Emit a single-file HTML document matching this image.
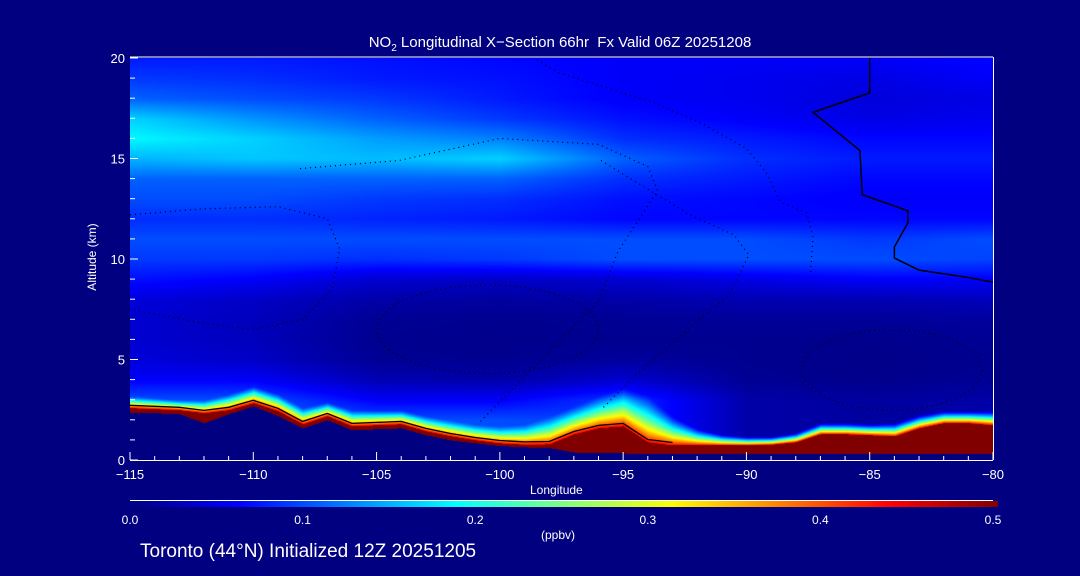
<!DOCTYPE html>
<html><head><meta charset="utf-8">
<style>
html,body{margin:0;padding:0;background:#000080;}
#wrap{position:relative;width:1080px;height:576px;background:#000080;overflow:hidden;font-family:"Liberation Sans",sans-serif;color:#fff;}
canvas{position:absolute;left:130px;top:58px;}
svg{position:absolute;left:0;top:0;}
.t{position:absolute;white-space:nowrap;}
</style></head>
<body>
<div id="wrap">
<canvas id="field" width="863" height="402"></canvas>
<svg id="ov" width="1080" height="576"></svg>
<div class="t" style="left:0;width:1120px;text-align:center;top:34px;font-size:15px;">NO<sub style="font-size:10px">2</sub> Longitudinal X&#8722;Section 66hr &nbsp;Fx Valid 06Z 20251208</div>
<div class="t" style="left:530px;top:483px;font-size:12px;">Longitude</div>
<div class="t" style="left:52px;top:250px;font-size:12px;transform:rotate(-90deg);width:80px;text-align:center;">Altitude (km)</div>
<div style="position:absolute;left:130px;top:500px;width:863px;height:1px;background:#fff;"></div>
<div style="position:absolute;left:130px;top:501px;width:868px;height:6px;background:linear-gradient(to right,#000080 0%,#0000ff 12.5%,#00ffff 37.5%,#ffff00 62.5%,#ff0000 87.5%,#800000 100%);"></div>
<div class="t" style="left:541px;top:528px;font-size:12px;">(ppbv)</div>
<div class="t" style="left:140px;top:541px;font-size:19px;">Toronto (44°N) Initialized 12Z 20251205</div>
</div>
<script>
// ---- data ----
const profileLons=[-115,-110,-105,-100,-95,-90,-85,-80];
const altGrid=[0,1,2,3,4,5,6,7,8,9,10,11,12,13,14,15,16,17,18,19,20];
const prof115=[.125,.125,.125,.10,.06,.045,.04,.04,.045,.07,.09,.10,.085,.10,.11,.15,.185,.165,.11,.09,.075];
const prof110=[.125,.125,.125,.10,.06,.035,.03,.03,.035,.06,.09,.10,.085,.10,.11,.16,.165,.135,.10,.085,.075];
const prof105=[.10,.10,.10,.06,.025,.01,.008,.01,.02,.04,.085,.10,.08,.09,.11,.155,.14,.11,.09,.075,.07];
const prof100=[.10,.10,.10,.06,.02,.008,.006,.008,.015,.035,.09,.10,.075,.085,.11,.165,.125,.09,.075,.07,.065];
const prof95=[.09,.09,.09,.09,.04,.015,.008,.01,.02,.04,.10,.10,.065,.07,.085,.11,.085,.07,.06,.06,.06];
const prof90=[.02,.02,.02,.02,.01,.008,.008,.012,.025,.05,.10,.10,.065,.065,.075,.085,.075,.06,.055,.055,.06];
const prof85=[.015,.015,.015,.015,.006,.005,.006,.012,.025,.06,.10,.09,.065,.06,.065,.075,.065,.05,.045,.05,.06];
const prof80=[.02,.02,.02,.02,.01,.008,.01,.015,.03,.06,.095,.10,.065,.06,.065,.075,.065,.055,.05,.06,.065];
const profiles=[prof115,prof110,prof105,prof100,prof95,prof90,prof85,prof80];
const sfcLons=[-115,-114,-113,-112,-111,-110,-109,-108,-107,-106,-105,-104,-103,-102,-101,-100,-99,-98,-97,-96,-95,-94,-93,-92,-91,-90,-89,-88,-87,-86,-85,-84,-83,-82,-81,-80];
const terrain=[2.35,2.35,2.3,1.85,2.3,2.7,2.2,1.6,2.0,1.5,1.55,1.6,1.25,1.0,0.85,0.72,0.65,0.62,0.4,0.35,0.35,0.3,0.3,0.3,0.3,0.3,0.3,0.3,0.3,0.3,0.3,0.3,0.3,0.3,0.3,0.3];
const redTop=[2.6,2.55,2.5,2.35,2.5,2.85,2.45,1.8,2.2,1.7,1.75,1.8,1.45,1.2,1.0,0.85,0.78,0.8,1.3,1.6,1.7,0.9,0.75,0.75,0.75,0.75,0.78,0.9,1.3,1.3,1.25,1.2,1.6,1.85,1.85,1.75];
const plumeTop=[3.2,3.1,3.0,3.0,3.3,3.7,3.3,2.6,2.9,2.5,2.5,2.5,2.2,2.0,1.8,1.7,1.8,2.2,2.7,3.2,3.6,3.2,2.2,1.6,1.3,1.2,1.2,1.4,1.9,1.9,1.85,1.9,2.3,2.5,2.5,2.5];
// contour lines [lon,alt]
const contourZeroLon=[-85.0,-85.0,-87.3,-85.4,-85.3,-83.45,-83.45,-84.0,-84.0,-83.0,-81.1,-80];
const contourZeroAlt=[20,18.26,17.3,15.4,13.2,12.4,11.8,10.6,10.05,9.45,9.1,8.85];
const contourALon=[-98.5,-97.56,-93.8,-91.9,-90.0,-89.2,-88.6,-87.55,-87.3,-87.4];
const contourAAlt=[19.9,19.25,17.8,16.8,15.5,14.3,12.8,12.3,11.1,9.3];
const contourBLon=[-95.9,-93.9,-92.3,-90.5,-89.9,-90.3,-90.7,-91.9,-93.5,-94.6,-95.9];
const contourBAlt=[14.9,13.4,12.2,11.2,10.2,9.2,8.2,7.0,5.3,4.1,2.5];
const contourCLon=[-108.1,-104.1,-100,-96,-94,-93.6,-95.2,-96,-97.6,-99.2,-100.8];
const contourCAlt=[14.5,14.9,16,15.7,14.6,13.4,10.4,7.9,5.9,3.9,1.9];
const contourDLon=[-115,-112,-109,-107,-106.5,-106.8,-108,-110,-112,-115];
const contourDAlt=[12.2,12.5,12.6,12.0,10.5,8.5,7.0,6.5,6.8,7.5];
const ellipse10=[-84.1,4.48,3.65,2.0];
const ellipseL=[-100.5,6.5,4.5,2.2];
const xTicks=[-115,-110,-105,-100,-95,-90,-85,-80];
const yTicks=[0,5,10,15,20];
const cbTicks=[0.0,0.1,0.2,0.3,0.4,0.5];
// ---- axes ----
const X0=130,X1=993,Y0=460,Y1=58;
const xs=l=>X0+(l+115)/35*(X1-X0);
const ys=a=>Y0-a/20*(Y0-Y1);
function interp(xa,ya,x){if(x<=xa[0])return ya[0];for(let i=1;i<xa.length;i++){if(x<=xa[i]){const t=(x-xa[i-1])/(xa[i]-xa[i-1]);return ya[i-1]+t*(ya[i]-ya[i-1]);}}return ya[ya.length-1];}
function jet(f){const c=v=>Math.max(0,Math.min(1,v));return [c(1.5-Math.abs(4*f-3))*255,c(1.5-Math.abs(4*f-2))*255,c(1.5-Math.abs(4*f-1))*255];}
// ---- field ----
const cv=document.getElementById('field');const ctx=cv.getContext('2d');
const W=cv.width,H=cv.height;const img=ctx.createImageData(W,H);
for(let px=0;px<W;px++){
  const lon=-115+px/W*35;
  let pi=0;while(pi<profileLons.length-2&&lon>profileLons[pi+1])pi++;
  const tL=(lon-profileLons[pi])/(profileLons[pi+1]-profileLons[pi]);
  const col=altGrid.map((a,k)=>profiles[pi][k]*(1-tL)+profiles[pi+1][k]*tL);
  const tr=interp(sfcLons,terrain,lon),rt=interp(sfcLons,redTop,lon),pt=interp(sfcLons,plumeTop,lon);
  for(let py=0;py<H;py++){
    const alt=(H-py)/H*20;
    let v;
    if(alt<tr){v=0;}
    else if(alt<rt){v=0.5;}
    else{
      const base=interp(altGrid,col,alt);
      if(alt<pt){const t=(alt-rt)/(pt-rt);v=base+(0.44-base)*Math.pow(1-t,1.3);}
      else v=base;
    }
    const c=jet(v/0.5);const o=(py*W+px)*4;
    img.data[o]=c[0];img.data[o+1]=c[1];img.data[o+2]=c[2];img.data[o+3]=255;
  }
}
ctx.putImageData(img,0,0);
// ---- overlay ----
const NS='http://www.w3.org/2000/svg';const sv=document.getElementById('ov');
function mk(tag,at){const e=document.createElementNS(NS,tag);for(const k in at)e.setAttribute(k,at[k]);sv.appendChild(e);return e;}
function pathOf(la,aa){return la.map((l,i)=>(i?'L':'M')+xs(l).toFixed(1)+' '+ys(aa[i]).toFixed(1)).join(' ');}
let e;
e=mk('path',{d:pathOf(contourZeroLon,contourZeroAlt),fill:'none',stroke:'#000',"stroke-width":1.5});


const sfcLineLon=sfcLons.filter(l=>l<=-93);
const sfcLineAlt=sfcLineLon.map(l=>interp(sfcLons,redTop,l)+0.12);
e=mk('path',{d:pathOf(sfcLineLon,sfcLineAlt),fill:'none',stroke:'#000',"stroke-width":1.3});


[[contourALon,contourAAlt,'contour-a'],[contourBLon,contourBAlt,'contour-b'],[contourCLon,contourCAlt,'contour-c'],[contourDLon,contourDAlt,'contour-d']].forEach(c=>{
  const p=mk('path',{d:pathOf(c[0],c[1]),fill:'none',stroke:'#000',"stroke-width":1.2,"stroke-dasharray":'1 4'});
  
  
});
[[ellipse10,'contour-ellipse-10'],[ellipseL,'contour-ellipse-left']].forEach(c=>{
  const q=mk('ellipse',{cx:xs(c[0][0]),cy:ys(c[0][1]),rx:xs(c[0][2])-xs(0),ry:ys(0)-ys(c[0][3]),fill:'none',stroke:'#000',"stroke-width":1.2,"stroke-dasharray":'1 4'});
  
  
});
// frame
e=mk('line',{x1:X0,y1:Y1-1,x2:X1,y2:Y1-1,stroke:'#fff'});


e=mk('line',{x1:X1+0.5,y1:Y1-1,x2:X1+0.5,y2:Y0,stroke:'#fff'});


e=mk('line',{x1:X0,y1:Y0+0.5,x2:X1,y2:Y0+0.5,stroke:'#fff'});


for(let l=-115;l<=-80;l++){
  const maj=(l%5===0);
  const t=mk('line',{x1:xs(l),y1:Y0,x2:xs(l),y2:Y0-(maj?8:4),stroke:'#fff'});
  
  
}
for(let a=0;a<=20;a++){
  const maj=(a%5===0);
  const t=mk('line',{x1:X0,y1:ys(a),x2:X0+(maj?8:5),y2:ys(a),stroke:'#fff'});
  
  
}
xTicks.forEach(l=>{
  const t=mk('text',{x:xs(l),y:479,fill:'#fff',"font-size":13,"text-anchor":'middle',"font-family":'Liberation Sans, sans-serif'});
  t.textContent=String(l).replace('-','\u2212');
  
  
});
yTicks.forEach(a=>{
  const t=mk('text',{x:125,y:ys(a)+5,fill:'#fff',"font-size":13,"text-anchor":'end',"font-family":'Liberation Sans, sans-serif'});
  t.textContent=a;
  
  
});
cbTicks.forEach(v=>{
  const t=mk('text',{x:X0+v/0.5*(X1-X0),y:524,fill:'#fff',"font-size":12,"text-anchor":'middle',"font-family":'Liberation Sans, sans-serif'});
  t.textContent=v.toFixed(1);
  
  
});
</script>
</body></html>
